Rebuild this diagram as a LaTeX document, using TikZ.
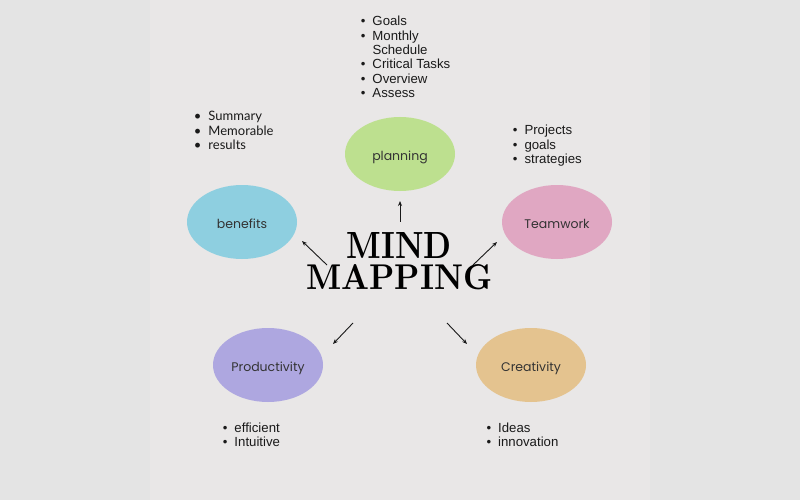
\documentclass[tikz,border=0pt]{standalone}
\usepackage{fontspec}
\usepackage{graphicx}
\usetikzlibrary{shapes.geometric,arrows.meta}
\newfontfamily\arialf{Liberation Sans}
\newfontfamily\latof{Lato}
\newfontfamily\popf{Poppins}
\definecolor{bgouter}{HTML}{E4E4E4}
\definecolor{bginner}{HTML}{E9E7E7}
\definecolor{cplan}{HTML}{BDE08F}
\definecolor{cbene}{HTML}{8ECFE0}
\definecolor{cteam}{HTML}{E0A7C2}
\definecolor{cprod}{HTML}{AEA7E0}
\definecolor{ccrea}{HTML}{E4C38F}
\definecolor{ctext}{HTML}{333333}
\definecolor{clist}{HTML}{1A1A1A}
\newcommand\itm[1]{\llap{\textbullet\hspace{7pt}}#1}
\newcommand\btext[1]{\raisebox{-6pt}[0pt][0pt]{#1}}
\begin{document}
\begin{tikzpicture}[x=1pt,y=-1pt,
  bubble/.style={ellipse,minimum width=110pt,minimum height=74pt,inner sep=0pt,
    text=ctext,font=\popf\fontsize{12.5}{14}\selectfont},
  arlist/.style={anchor=base west,inner sep=0pt,text=clist,
    font=\arialf\fontsize{13.2}{14.3}\selectfont},
  latlist/.style={anchor=base west,inner sep=0pt,text=clist,
    font=\latof\fontsize{13}{14.3}\selectfont},
  titletext/.style={anchor=south west,inner sep=0pt,text=black,font=\bfseries},
  arr/.style={-{Stealth[length=5pt,width=4pt]},line width=0.9pt,draw=black!90}]
\useasboundingbox (0,0) rectangle (800,500);
\fill[bgouter] (0,0) rectangle (800,500);
\fill[bginner] (150,0) rectangle (650,500);

% bubbles
\node[bubble,fill=cplan] (planning) at (400,154) {\btext{planning}};
\node[bubble,fill=cbene] (benefits) at (242,222) {\btext{benefits}};
\node[bubble,fill=cteam] (teamwork) at (557,222) {\btext{Teamwork}};
\node[bubble,fill=cprod] (productivity) at (268,365) {\btext{Productivity}};
\node[bubble,fill=ccrea] (creativity) at (531,365) {\btext{Creativity}};

% title
\node[titletext] (title) at (306,290) {\vbox{\offinterlineskip
  \hbox to 186pt{\hss\resizebox{105pt}{26pt}{MIND}\hss}
  \vskip6pt
  \hbox{\resizebox{186pt}{25pt}{MAPPING}}}};

% lists
\node[arlist] (goals) at (372.3,26) {\begin{tabular}[t]{@{}l@{}}
\itm{Goals}\\ \itm{Monthly}\\ Schedule\\ \itm{Critical Tasks}\\ \itm{Overview}\\ \itm{Assess}
\end{tabular}};
\node[latlist] (summary) at (208.3,120.7) {\begin{tabular}[t]{@{}l@{}}
\itm{Summary}\\ \itm{Memorable}\\ \itm{results}
\end{tabular}};
\node[arlist] (projects) at (524.3,135) {\begin{tabular}[t]{@{}l@{}}
\itm{Projects}\\ \itm{goals}\\ \itm{strategies}
\end{tabular}};
\node[arlist] (efficient) at (234.3,432.3) {\begin{tabular}[t]{@{}l@{}}
\itm{efficient}\\ \itm{Intuitive}
\end{tabular}};
\node[arlist] (ideas) at (498,432.3) {\begin{tabular}[t]{@{}l@{}}
\itm{Ideas}\\ \itm{innovation}
\end{tabular}};

% arrows
\coordinate (pS) at (400,221.7); \coordinate (pE) at (400,201);
\coordinate (bS) at (327,265);   \coordinate (bE) at (302,241);
\coordinate (tS) at (473,265);   \coordinate (tE) at (497,242);
\coordinate (prS) at (353,323);  \coordinate (prE) at (333,344);
\coordinate (cS) at (447,323);   \coordinate (cE) at (467,344);
\draw[arr] (pS) -- (pE);
\draw[arr] (bS) -- (bE);
\draw[arr] (tS) -- (tE);
\draw[arr] (prS) -- (prE);
\draw[arr] (cS) -- (cE);
\end{tikzpicture}
\end{document}
